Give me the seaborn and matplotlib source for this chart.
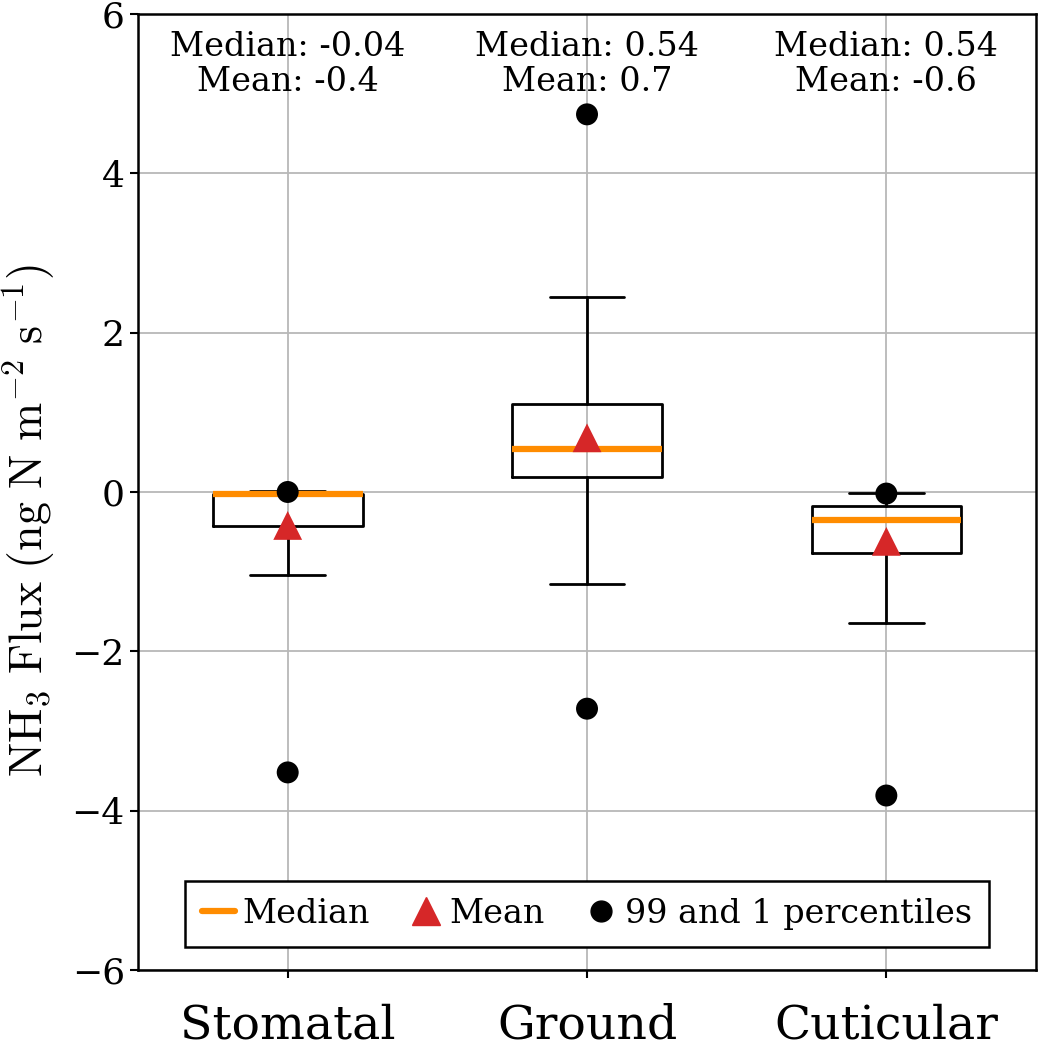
import matplotlib
matplotlib.use('Agg')
import matplotlib.pyplot as plt
import seaborn as sns
from matplotlib.lines import Line2D

# data
categories = ['Stomatal', 'Ground', 'Cuticular']
q1 = [-0.43, 0.19, -0.76]
q3 = [-0.02, 1.10, -0.18]
medians = [-0.03, 0.54, -0.35]
means = [-0.42, 0.68, -0.62]
whisk_lo = [-1.04, -1.16, -1.64]
whisk_hi = [0.01, 2.45, -0.01]
pct_hi = [0.0, 4.74, -0.02]
pct_lo = [-3.52, -2.72, -3.81]
median_text = ['-0.04', '0.54', '0.54']
mean_text = ['-0.4', '0.7', '-0.6']

sns.set_style('whitegrid')
plt.rcParams['font.family'] = ['DejaVu Serif']
plt.rcParams['mathtext.fontset'] = 'cm'
plt.rcParams['text.color'] = 'black'
plt.rcParams['axes.labelcolor'] = 'black'
plt.rcParams['xtick.color'] = 'black'
plt.rcParams['ytick.color'] = 'black'

fig, ax = plt.subplots(figsize=(10.41, 10.5), dpi=100)
fig.subplots_adjust(left=0.1326, right=0.9952, top=0.9867, bottom=0.0762)

positions = [1, 2, 3]
stats = []
for i, c in enumerate(categories):
    stats.append({'label': c, 'q1': q1[i], 'q3': q3[i], 'med': medians[i],
                  'whislo': whisk_lo[i], 'whishi': whisk_hi[i], 'fliers': []})

ax.bxp(stats, positions=positions, widths=0.5, showfliers=False,
       boxprops=dict(color='black', linewidth=2),
       whiskerprops=dict(color='black', linewidth=2),
       capprops=dict(color='black', linewidth=2),
       medianprops=dict(color='darkorange', linewidth=4.5))

sns.scatterplot(x=positions + positions, y=pct_hi + pct_lo, color='black',
                marker='o', s=250, edgecolor='none', ax=ax, zorder=4)
sns.scatterplot(x=positions, y=means, color='#d62728', marker='^', s=430,
                edgecolor='none', ax=ax, zorder=5)

for p, md, mn in zip(positions, median_text, mean_text):
    ax.text(p, 5.79, f'Median: {md}\nMean: {mn}', ha='center', va='top',
            fontsize=24, linespacing=1.12)

ax.set_xlim(0.5, 3.5)
ax.set_ylim(-6, 6)
ax.set_yticks([-6, -4, -2, 0, 2, 4, 6])
ax.set_xticks(positions)
ax.set_xticklabels(categories, fontsize=34)
ax.tick_params(axis='y', labelsize=26)
ax.tick_params(axis='x', pad=18)
ax.tick_params(axis='both', direction='out', length=6, width=1.5, color='black',
               left=True, bottom=True)
ax.set_ylabel(r'$\mathrm{NH_3\ Flux\ (ng\ N\ m^{-2}\ s^{-1})}$', fontsize=33)
ax.yaxis.set_label_coords(-0.09, 0.47)
ax.grid(True, color='#b8b8b8', linewidth=1.3)
for s in ax.spines.values():
    s.set_color('black')
    s.set_linewidth(1.8)

handles = [Line2D([], [], color='darkorange', linewidth=4.5),
           Line2D([], [], color='#d62728', marker='^', linestyle='none', markersize=20),
           Line2D([], [], color='black', marker='o', linestyle='none', markersize=15)]
leg = ax.legend(handles, ['Median', 'Mean', '99 and 1 percentiles'], loc='lower center',
                ncol=3, fontsize=24, frameon=True, fancybox=False, framealpha=1,
                edgecolor='black', handlelength=1.0, handletextpad=0.2,
                columnspacing=1.2, borderaxespad=0.7, borderpad=0.5)
leg.get_frame().set_linewidth(1.8)

plt.savefig('out.png', dpi=100)
